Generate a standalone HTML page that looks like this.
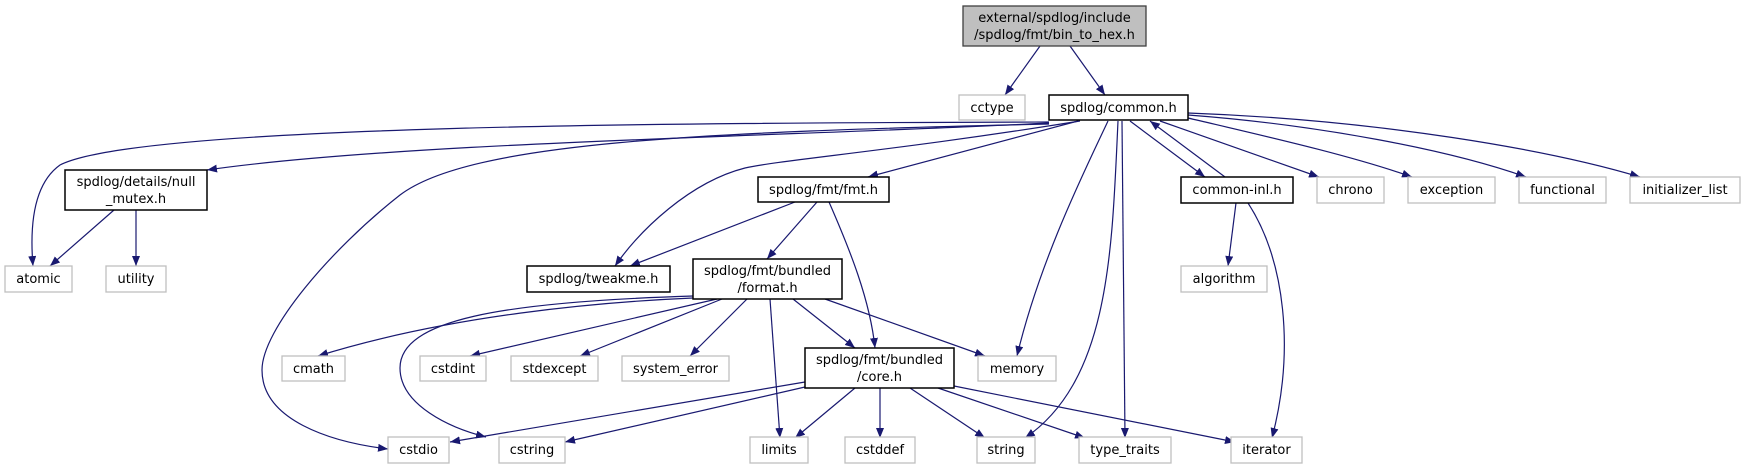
<!DOCTYPE html>
<html><head><meta charset="utf-8"><style>
html,body{margin:0;padding:0;background:#fff;}
svg{display:block;}
text{font-family:"DejaVu Sans","Liberation Sans",sans-serif;font-size:13px;fill:#000;}
.g{fill:#fff;stroke:#bfbfbf;stroke-width:1.3;}
.b{fill:#fff;stroke:#000;stroke-width:1.5;}
.e{fill:none;stroke:#191970;stroke-width:1.2;}
</style></head><body>
<svg width="1746" height="469" viewBox="0 0 1746 469" xmlns="http://www.w3.org/2000/svg">
<defs><marker id="a" viewBox="0 0 10 8" refX="10" refY="4" markerWidth="10" markerHeight="8" markerUnits="userSpaceOnUse" orient="auto"><path d="M0,0L10,4L0,8z" fill="#191970"/></marker></defs>
<g marker-end="url(#a)">
<path class="e" d="M1040,46L1005,95"/>
<path class="e" d="M1070,46L1105,95"/>
<path class="e" d="M1049,122C700,123 140,124 60,165C32,185 30,230 33,266"/>
<path class="e" d="M1049,123C800,136 400,142 207,170"/>
<path class="e" d="M1049,124C700,132 470,142 400,195C330,250 262,330 262,370C262,420 330,442 388,449"/>
<path class="e" d="M1080,121C900,150 780,160 745,168C690,182 640,230 615,266"/>
<path class="e" d="M1078,121L868,177"/>
<path class="e" d="M1108,121C1085,170 1040,260 1017,356"/>
<path class="e" d="M1118,121C1112,250 1110,380 1025,438"/>
<path class="e" d="M1122,121L1125,438"/>
<path class="e" d="M1130,121L1205,177"/>
<path class="e" d="M1225,177L1150,121"/>
<path class="e" d="M1160,121L1319,177"/>
<path class="e" d="M1188,118C1260,135 1350,155 1412,177"/>
<path class="e" d="M1188,115C1320,125 1450,150 1526,177"/>
<path class="e" d="M1188,113C1380,120 1550,150 1640,177"/>
<path class="e" d="M114,210L50,266"/>
<path class="e" d="M136,210L136,266"/>
<path class="e" d="M795,202L630,266"/>
<path class="e" d="M817,202L767,259"/>
<path class="e" d="M829,202C850,250 870,300 875,348"/>
<path class="e" d="M1236,203L1228,266"/>
<path class="e" d="M1248,203C1285,260 1295,350 1272,438"/>
<path class="e" d="M693,298C600,302 450,315 318,356"/>
<path class="e" d="M693,296C500,302 400,320 400,368C400,405 450,428 486,437"/>
<path class="e" d="M717,299L470,356"/>
<path class="e" d="M722,299L580,356"/>
<path class="e" d="M747,299L690,356"/>
<path class="e" d="M770,299L780,438"/>
<path class="e" d="M793,299L855,348"/>
<path class="e" d="M825,299L985,356"/>
<path class="e" d="M805,382L450,442"/>
<path class="e" d="M805,387L565,442"/>
<path class="e" d="M855,388L795,438"/>
<path class="e" d="M880,388L880,438"/>
<path class="e" d="M910,388L985,438"/>
<path class="e" d="M938,388L1085,438"/>
<path class="e" d="M954,386L1235,442"/>
</g>
<rect x="963" y="6" width="183" height="40" fill="#bfbfbf" stroke="#404040" stroke-width="1.3"/>
<text x="1054.5" y="22" text-anchor="middle">external/spdlog/include</text>
<text x="1054.5" y="39" text-anchor="middle">/spdlog/fmt/bin_to_hex.h</text>
<rect class="g" x="959" y="95" width="66" height="25"/><text x="992" y="112" text-anchor="middle">cctype</text>
<rect class="b" x="1049" y="95" width="139" height="25"/><text x="1118.5" y="112" text-anchor="middle">spdlog/common.h</text>
<rect class="b" x="65" y="170" width="142" height="40"/><text x="136" y="186" text-anchor="middle">spdlog/details/null</text><text x="136" y="203" text-anchor="middle">_mutex.h</text>
<rect class="b" x="758" y="177" width="131" height="25"/><text x="823.5" y="194" text-anchor="middle">spdlog/fmt/fmt.h</text>
<rect class="b" x="1181" y="177" width="112" height="26"/><text x="1237" y="194" text-anchor="middle">common-inl.h</text>
<rect class="g" x="1317" y="177" width="67" height="26"/><text x="1350.5" y="194" text-anchor="middle">chrono</text>
<rect class="g" x="1408" y="177" width="87" height="26"/><text x="1451.5" y="194" text-anchor="middle">exception</text>
<rect class="g" x="1519" y="177" width="87" height="26"/><text x="1562.5" y="194" text-anchor="middle">functional</text>
<rect class="g" x="1630" y="177" width="110" height="26"/><text x="1685" y="194" text-anchor="middle">initializer_list</text>
<rect class="g" x="5" y="266" width="67" height="26"/><text x="38.5" y="283" text-anchor="middle">atomic</text>
<rect class="g" x="106" y="266" width="60" height="26"/><text x="136" y="283" text-anchor="middle">utility</text>
<rect class="b" x="527" y="266" width="143" height="26"/><text x="598.5" y="283" text-anchor="middle">spdlog/tweakme.h</text>
<rect class="b" x="693" y="259" width="149" height="40"/><text x="767.5" y="275" text-anchor="middle">spdlog/fmt/bundled</text><text x="767.5" y="292" text-anchor="middle">/format.h</text>
<rect class="g" x="1181" y="266" width="86" height="26"/><text x="1224" y="283" text-anchor="middle">algorithm</text>
<rect class="g" x="282" y="356" width="63" height="25"/><text x="313.5" y="373" text-anchor="middle">cmath</text>
<rect class="g" x="420" y="356" width="66" height="25"/><text x="453" y="373" text-anchor="middle">cstdint</text>
<rect class="g" x="511" y="356" width="87" height="25"/><text x="554.5" y="373" text-anchor="middle">stdexcept</text>
<rect class="g" x="622" y="356" width="107" height="25"/><text x="675.5" y="373" text-anchor="middle">system_error</text>
<rect class="b" x="805" y="348" width="149" height="40"/><text x="879.5" y="364" text-anchor="middle">spdlog/fmt/bundled</text><text x="879.5" y="381" text-anchor="middle">/core.h</text>
<rect class="g" x="978" y="356" width="78" height="25"/><text x="1017" y="373" text-anchor="middle">memory</text>
<rect class="g" x="388" y="437" width="61" height="26"/><text x="418.5" y="454" text-anchor="middle">cstdio</text>
<rect class="g" x="499" y="437" width="66" height="26"/><text x="532" y="454" text-anchor="middle">cstring</text>
<rect class="g" x="750" y="437" width="58" height="26"/><text x="779" y="454" text-anchor="middle">limits</text>
<rect class="g" x="845" y="437" width="70" height="26"/><text x="880" y="454" text-anchor="middle">cstddef</text>
<rect class="g" x="977" y="437" width="58" height="26"/><text x="1006" y="454" text-anchor="middle">string</text>
<rect class="g" x="1079" y="437" width="92" height="26"/><text x="1125" y="454" text-anchor="middle">type_traits</text>
<rect class="g" x="1231" y="437" width="71" height="26"/><text x="1266.5" y="454" text-anchor="middle">iterator</text>
</svg>
</body></html>
